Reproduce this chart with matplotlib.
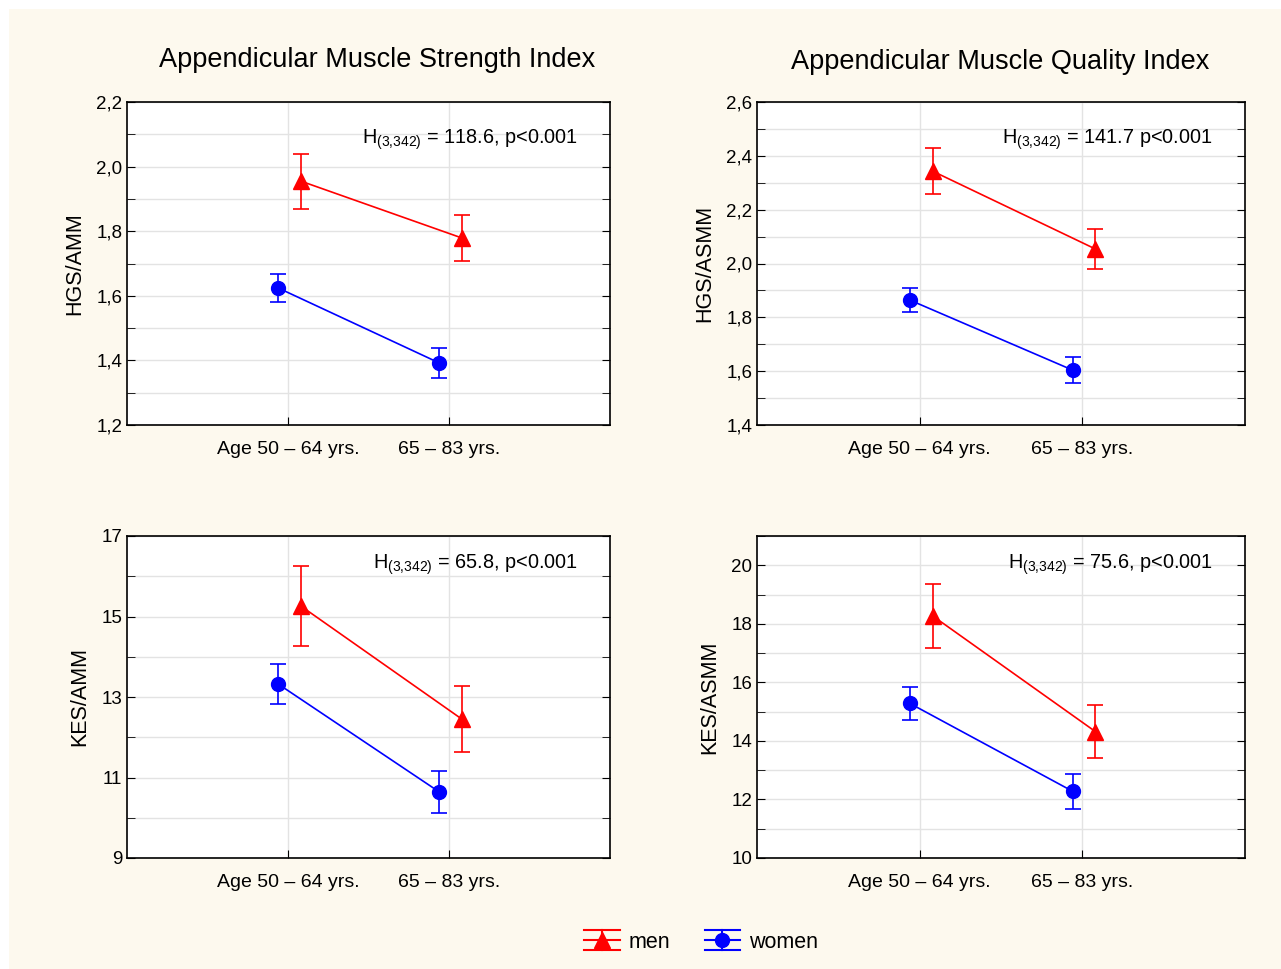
import matplotlib
matplotlib.use("Agg")
import matplotlib.pyplot as plt
from matplotlib.ticker import FixedLocator, FuncFormatter
from matplotlib.patches import Rectangle
from matplotlib.legend_handler import HandlerBase
from matplotlib.lines import Line2D
import numpy as np

plt.rcParams['font.family'] = ['Liberation Sans', 'DejaVu Sans']
plt.rcParams['mathtext.fontset'] = 'custom'
plt.rcParams['mathtext.rm'] = 'Liberation Sans'
plt.rcParams['mathtext.it'] = 'Liberation Sans'

categories = ["Age 50 \u2013 64 yrs.", "65 \u2013 83 yrs."]
col_titles = ["Appendicular Muscle Strength Index", "Appendicular Muscle Quality Index"]
ylabels = ["HGS/AMM", "HGS/ASMM", "KES/AMM", "KES/ASMM"]
stats = ["118.6, p<0.001", "141.7 p<0.001", "65.8, p<0.001", "75.6, p<0.001"]

men_mean = [[1.955, 1.779], [2.343, 2.054], [15.26, 12.45], [18.27, 14.32]]
men_err = [[0.085, 0.072], [0.086, 0.073], [0.99, 0.82], [1.10, 0.89]]
women_mean = [[1.624, 1.392], [1.864, 1.604], [13.32, 10.64], [15.28, 12.28]]
women_err = [[0.043, 0.047], [0.045, 0.048], [0.50, 0.53], [0.56, 0.60]]

ylims = [(1.2, 2.2), (1.4, 2.6), (9, 17), (10, 21)]
major_ticks = [[1.2, 1.4, 1.6, 1.8, 2.0, 2.2],
               [1.4, 1.6, 1.8, 2.0, 2.2, 2.4, 2.6],
               [9, 11, 13, 15, 17],
               [10, 12, 14, 16, 18, 20]]
minor_ticks = [[1.3, 1.5, 1.7, 1.9, 2.1],
               [1.5, 1.7, 1.9, 2.1, 2.3, 2.5],
               [10, 12, 14, 16],
               [11, 13, 15, 17, 19, 21]]


class ErrHandler(HandlerBase):
    def __init__(self, color, marker, ms):
        super().__init__()
        self.color, self.marker, self.ms = color, marker, ms

    def create_artists(self, legend, orig_handle, xdescent, ydescent, width, height, fontsize, trans):
        cy = height / 2 - ydescent
        off = height * 0.68
        arts = []
        for yy in (cy - off, cy, cy + off):
            arts.append(Line2D([-xdescent, -xdescent + width], [yy, yy], color=self.color, lw=1.5, transform=trans))
        cx = -xdescent + width / 2
        arts.append(Line2D([cx, cx], [cy - off, cy + off], color=self.color, lw=1.5, transform=trans))
        arts.append(Line2D([cx], [cy], color=self.color, marker=self.marker, ms=self.ms, ls='none', transform=trans))
        return arts


class _Handle:
    pass


W, H = 1281, 969
fig = plt.figure(figsize=(W / 100, H / 100), dpi=100, facecolor='white')
fig.patches.append(Rectangle((9 / W, 0), 1 - 9 / W, 1 - 9 / H, transform=fig.transFigure,
                             facecolor='#fdf9ee', edgecolor='none', zorder=-10))

boxes = [(127, 102, 610, 425), (757, 102, 1245, 425), (127, 536, 610, 858), (757, 536, 1245, 858)]
text_y = [0.883, 0.883, 0.91, 0.91]
red = '#ff0000'
blue = '#0000ff'
for i, (x0, y0, x1, y1) in enumerate(boxes):
    ax = fig.add_axes([x0 / W, 1 - y1 / H, (x1 - x0) / W, (y1 - y0) / H])
    xpos = np.arange(1, len(categories) + 1)
    ax.errorbar(xpos + 0.08, men_mean[i], yerr=men_err[i], color=red, marker='^', ms=11,
                lw=1.2, elinewidth=1.2, capsize=6, capthick=1.2, zorder=3)
    ax.errorbar(xpos - 0.06, women_mean[i], yerr=women_err[i], color=blue, marker='o', ms=10,
                lw=1.2, elinewidth=1.2, capsize=6, capthick=1.2, zorder=3)
    ax.set_xlim(0, 3)
    ax.set_ylim(*ylims[i])
    ax.set_xticks(xpos)
    ax.set_xticklabels(categories, fontsize=14)
    ax.yaxis.set_major_locator(FixedLocator(major_ticks[i]))
    ax.yaxis.set_minor_locator(FixedLocator(minor_ticks[i]))
    if i < 2:
        ax.yaxis.set_major_formatter(FuncFormatter(lambda v, p: f"{v:.1f}".replace('.', ',')))
    else:
        ax.yaxis.set_major_formatter(FuncFormatter(lambda v, p: f"{v:.0f}"))
    ax.tick_params(axis='y', which='both', direction='in', left=True, right=True, labelsize=13.5, length=6)
    ax.tick_params(axis='x', direction='in', length=6, top=False, pad=11.5)
    ax.grid(True, which='both', axis='y', color='#e3e3e3', lw=1, zorder=0)
    ax.grid(True, which='major', axis='x', color='#e3e3e3', lw=1, zorder=0)
    ax.set_axisbelow(True)
    for s in ax.spines.values():
        s.set_linewidth(1.2)
        s.set_color('black')
    ax.set_ylabel(ylabels[i], fontsize=15.5, labelpad=8)
    ax.text(0.934, text_y[i], r"$\mathrm{H_{(3{,}342)}}$ = " + stats[i], transform=ax.transAxes,
            ha='right', va='center', fontsize=14.3)

fig.text(377 / W, 1 - 60 / H, col_titles[0], ha='center', va='center', fontsize=19.5)
fig.text(1000 / W, 1 - 62 / H, col_titles[1], ha='center', va='center', fontsize=19.5)

hm, hw = _Handle(), _Handle()
fig.legend([hm, hw], ['men', 'women'], loc='center', bbox_to_anchor=(701 / W, 1 - 942 / H),
           ncol=2, frameon=False, fontsize=15.5, handlelength=1.65, columnspacing=1.6, handletextpad=0.4,
           handler_map={hm: ErrHandler(red, '^', 11), hw: ErrHandler(blue, 'o', 10)})

fig.savefig('out.png', dpi=100, facecolor=fig.get_facecolor())
